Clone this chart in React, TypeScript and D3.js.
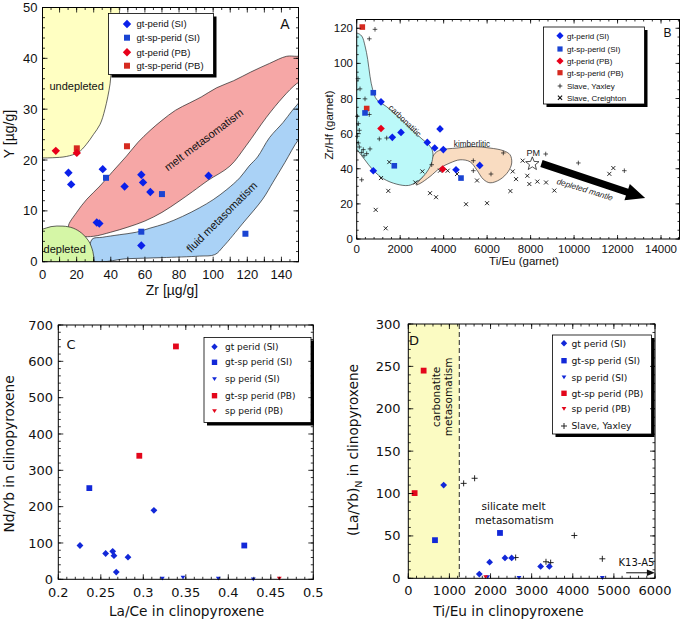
import React from "react";
import * as d3 from "d3";

type P = [number, number];
const FA = "'Liberation Sans', Arial, Helvetica, sans-serif";
const FC = "'DejaVu Sans', Verdana, sans-serif";

// ---------- Panel A: Zr vs Y (garnet) ----------
const aGtPeridSI: P[] = [[15.2, 17.5], [16.8, 15.2], [35.3, 18.2], [31.8, 7.7], [33.3, 7.5], [48.1, 14.8], [57.9, 17.1], [58.9, 15.6], [63.2, 13.7], [97.3, 16.9], [57.9, 3.2]];
const aGtSpPeridSI: P[] = [[37.2, 16.5], [70, 13.3], [57.9, 5.9], [118.9, 5.5]];
const aGtPeridPB: P[] = [[7.8, 21.8], [20.1, 21.4]];
const aGtSpPeridPB: P[] = [[20.1, 22.3], [49.5, 22.7]];
const aXTicks = [0, 20, 40, 60, 80, 100, 120, 140];
const aYTicks = [0, 10, 20, 30, 40, 50];
const aUndepleted: P[] = [[46, 53], [45.4, 50], [43.5, 45], [41, 40], [39.6, 35], [36.6, 30], [33.7, 27], [29.8, 25], [25.5, 23], [21, 21.5], [14, 20.7], [6, 20.45], [0, 20.4], [-4, 20.4], [-4, 53]];
const aDepleted: P[] = [[-4, 6.3], [0, 6.4], [5, 6.9], [12, 7.0], [18, 6.6], [23, 5.6], [27, 4.1], [29.5, 2], [30.3, 0], [30.5, -3], [-4, -3]];
const aMelt: P[] = [[15.2, 6.9], [20, 9.7], [26, 12.3], [33.7, 14.9], [41, 17.7], [49.3, 20.8], [56, 23.5], [63, 25.8], [70, 27.8], [78, 29.8], [86, 31.2], [93, 32.4], [102, 34.2], [112, 35.6], [122, 37.3], [133, 39.0], [143, 40.4], [149, 40.4], [156, 40.5], [156, 36.5], [148.8, 35], [141, 32.4], [131.2, 28.4], [119.5, 22.9], [109.8, 18.8], [97, 16.0], [88, 13.8], [80, 11.9], [70, 9.7], [60, 8.0], [50, 6.8], [40, 5.8], [30, 5.0], [23, 5.0], [18, 5.6]];
const aFluid: P[] = [[29, 4.4], [35, 4.8], [45, 5.3], [55, 5.8], [63, 6.6], [72, 7.5], [82, 8.9], [92, 10.6], [100, 12.2], [108, 14.2], [115.6, 16.5], [121, 18.8], [126, 20.6], [133, 24.4], [141, 27.4], [146, 29.6], [150, 31.2], [156, 34], [156, 26], [150, 24], [142, 19.5], [135, 15.6], [129, 12.3], [117.5, 7.6], [106, 3.0], [101, 1.4], [92, 1.1], [70, 0.8], [50, 0.6], [29, 0.3]];

// ---------- Panel B: Ti/Eu vs Zr/Hf (garnet) ----------
const bGtPeridSI: P[] = [[1118, 78.1], [1638, 57.9], [2038, 60.7], [764, 38.9], [3248, 55], [3589, 51.8], [3833, 62.7], [3985, 50.9], [4569, 39.4], [5659, 41.9]];
const bGtSpPeridSI: P[] = [[764, 83.3], [382, 71.8], [1730, 41.7], [4799, 34.7]];
const bGtPeridPB: P[] = [[1118, 62.9], [3957, 39.8]];
const bGtSpPeridPB: P[] = [[258, 120.7], [460, 74.3]];
const bSlaveYaxley: P[] = [[842, 119.4], [580, 114], [60, 91.3], [152, 85.5], [382, 79.8], [580, 70.9], [28, 69.9], [74, 65.7], [120, 61.9], [28, 58.5], [74, 54.7], [120, 52.4], [304, 50.9], [460, 48.6], [230, 49.3], [612, 51.3], [336, 47.4], [230, 33.7], [1040, 57], [1380, 57.5], [3451, 42.3], [5365, 44.6], [5365, 38.9], [6179, 37], [6745, 49], [8696, 48.4], [10196, 43.3], [12312, 38.9]];
const bSlaveCreighton: P[] = [[1500, 43.8], [1118, 34.7], [1454, 27.4], [874, 16.6], [1334, 6.1], [2697, 32.2], [3020, 38.5], [3373, 26.1], [3649, 23.8], [3833, 38.9], [4185, 38.9], [4615, 37], [5029, 19.8], [5535, 33.3], [5996, 20.4], [7070, 27.3], [7636, 44.6], [7177, 38.5], [7330, 34.1], [7850, 36], [7942, 31.3], [8310, 32.7], [8710, 32.2], [9092, 27.6], [11622, 37.1], [11806, 40.4]];
const bXTicks = [0, 2000, 4000, 6000, 8000, 10000, 12000, 14000];
const bYTicks = [0, 20, 40, 60, 80, 100, 120];
const bCarbonatitic: P[] = [[-400, 117], [0, 117.3], [230, 115.6], [382, 110], [506, 102.3], [612, 92.7], [736, 85], [920, 79.4], [1380, 75.3], [2000, 68.6], [2500, 62.6], [3000, 57], [3350, 53.2], [3500, 49.5], [3462, 44], [3300, 39.5], [3050, 35.5], [2750, 32.4], [2385, 30.5], [1850, 31.2], [1231, 34.3], [770, 39], [350, 45.5], [100, 49.5], [0, 51], [-400, 51]];
const bKimberlitic: P[] = [[2729, 30.8], [3100, 36.5], [3400, 44.5], [3600, 48.8], [3833, 50.6], [4601, 51.8], [5366, 52.6], [6133, 51.8], [6745, 50.3], [7053, 48], [7131, 43.3], [6975, 38.5], [6593, 33.9], [6133, 32], [5826, 34], [5521, 39.4], [5214, 44], [4753, 45.1], [4293, 43.3], [3833, 40.4], [3373, 35.6], [2912, 31.6]];

// ---------- Panel C: La/Ce vs Nd/Yb (cpx) ----------
const cGtPeridSI: P[] = [[0.2255, 93], [0.2557, 71], [0.264, 77], [0.2655, 65], [0.282, 61], [0.2682, 20], [0.3125, 190]];
const cGtSpPeridSI: P[] = [[0.2365, 251], [0.4188, 93]];
const cSpPeridSI: P[] = [[0.3224, 2], [0.3467, 5], [0.3882, 2], [0.4294, 0]];
const cGtSpPeridPB: P[] = [[0.2953, 340], [0.3384, 641]];
const cSpPeridPB: P[] = [[0.46, 2]];
const cXTicks = [0.2, 0.25, 0.3, 0.35, 0.4, 0.45, 0.5];
const cYTicks = [0, 100, 200, 300, 400, 500, 600, 700];

// ---------- Panel D: Ti/Eu vs (La/Yb)N (cpx) ----------
const dGtPeridSI: P[] = [[860, 110], [1727, 5], [1978, 19], [2351, 24], [2514, 24], [3219, 14], [3430, 14]];
const dGtSpPeridSI: P[] = [[649, 45], [2230, 53.5]];
const dSpPeridSI: P[] = [[1930, 1.5], [2692, 0.5], [4719, 0.5]];
const dGtSpPeridPB: P[] = [[373, 245], [154, 100.5]];
const dSpPeridPB: P[] = [[1881, 1.5]];
const dSlaveYaxley: P[] = [[1346, 112], [1613, 118], [2611, 24.5], [3349, 19.5], [3462, 18.5], [4038, 50.5], [4719, 23]];
const dXTicks = [0, 1000, 2000, 3000, 4000, 5000, 6000];
const dYTicks = [0, 50, 100, 150, 200, 250, 300];
const dCarbLimit = 1240;

// ---------- scales ----------
const xA = d3.scaleLinear().domain([0, 150]).range([42.5, 298.5]);
const yA = d3.scaleLinear().domain([0, 50]).range([261.7, 7.5]);
const xB = d3.scaleLinear().domain([0, 14850]).range([356.7, 679.5]);
const yB = d3.scaleLinear().domain([0, 125]).range([239, 19.5]);
const xC = d3.scaleLinear().domain([0.2, 0.5]).range([58.3, 313.3]);
const yC = d3.scaleLinear().domain([0, 700]).range([579.3, 325]);
const xD = d3.scaleLinear().domain([0, 6000]).range([408.3, 655]);
const yD = d3.scaleLinear().domain([0, 300]).range([578.3, 324]);

const rng = (a: number, b: number, s: number) =>
  d3.range(Math.round((b - a) / s) + 1).map((i) => +(a + i * s).toFixed(6));

// ---------- shapes ----------
const diamond = (x: number, y: number, r: number) => `M${x},${y - r}L${x + r},${y}L${x},${y + r}L${x - r},${y}Z`;
const square = (x: number, y: number, r: number) => `M${x - r},${y - r}h${2 * r}v${2 * r}h${-2 * r}Z`;
const triDown = (x: number, y: number, r: number) => `M${x - r},${y - r * 0.75}L${x + r},${y - r * 0.75}L${x},${y + r * 0.85}Z`;
const plus = (x: number, y: number, r: number) => `M${x - r},${y}H${x + r}M${x},${y - r}V${y + r}`;
const cross = (x: number, y: number, r: number) => `M${x - r},${y - r}L${x + r},${y + r}M${x + r},${y - r}L${x - r},${y + r}`;

type Shape = "diamond" | "square" | "tri" | "plus" | "cross";
function shapePath(s: Shape, x: number, y: number, r: number) {
  if (s === "diamond") return diamond(x, y, r);
  if (s === "square") return square(x, y, r);
  if (s === "tri") return triDown(x, y, r);
  if (s === "plus") return plus(x, y, r);
  return cross(x, y, r);
}
function Mark({ s, x, y, r, color, sw }: { s: Shape; x: number; y: number; r: number; color: string; sw?: number }) {
  const stroke = s === "plus" || s === "cross";
  return (
    <path
      d={shapePath(s, x, y, r)}
      fill={stroke ? "none" : color}
      stroke={stroke ? color : "none"}
      strokeWidth={stroke ? sw ?? 0.9 : 0}
    />
  );
}
function Marks({ data, xs, ys, s, r, color, sw }: any) {
  return (
    <g>
      {data.map((d: P, i: number) => (
        <Mark key={i} s={s} x={xs(d[0])} y={ys(d[1])} r={r} color={color} sw={sw} />
      ))}
    </g>
  );
}

function Frame({ xs, ys, xMaj, xMin, yMaj, yMin, maj = 5, min = 2.5 }: any) {
  const [x0, x1] = xs.range();
  const [yb, yt] = ys.range();
  const segs: string[] = [];
  xMin.forEach((v: number) => { const x = xs(v); segs.push(`M${x},${yb}v${-min}M${x},${yt}v${min}`); });
  xMaj.forEach((v: number) => { const x = xs(v); segs.push(`M${x},${yb}v${-maj}M${x},${yt}v${maj}`); });
  yMin.forEach((v: number) => { const y = ys(v); segs.push(`M${x0},${y}h${min}M${x1},${y}h${-min}`); });
  yMaj.forEach((v: number) => { const y = ys(v); segs.push(`M${x0},${y}h${maj}M${x1},${y}h${-maj}`); });
  return (
    <g>
      <path d={segs.join("")} stroke="#000" strokeWidth={0.8} fill="none" />
      <rect x={x0} y={yt} width={x1 - x0} height={yb - yt} fill="none" stroke="#000" strokeWidth={1} />
    </g>
  );
}

function TickLabels({ xs, ys, xt, yt, xFmt, yFmt, xBase, yRight, font, size }: any) {
  return (
    <g fontFamily={font} fontSize={size} fill="#111">
      {xt.map((v: number) => (
        <text key={"x" + v} x={xs(v)} y={xBase} textAnchor="middle">{xFmt ? xFmt(v) : v}</text>
      ))}
      {yt.map((v: number) => (
        <text key={"y" + v} x={yRight} y={ys(v)} dy="0.35em" textAnchor="end">{yFmt ? yFmt(v) : v}</text>
      ))}
    </g>
  );
}

function Legend({ x, y, w, h, items, rowY, mx, tx, font, size, shadow = 3 }: any) {
  return (
    <g>
      <rect x={x + shadow} y={y + shadow} width={w} height={h} fill="#000" />
      <rect x={x} y={y} width={w} height={h} fill="#fff" stroke="#000" strokeWidth={0.8} />
      {items.map((it: any, i: number) => (
        <g key={i}>
          <Mark s={it.s} x={mx} y={rowY[i]} r={it.r} color={it.c} sw={it.sw} />
          <text x={tx} y={rowY[i]} dy="0.35em" fontFamily={font} fontSize={size} fill="#111">{it.label}</text>
        </g>
      ))}
    </g>
  );
}

const closedPath = (xs: any, ys: any, pts: P[]) =>
  d3.line<P>().x((d) => xs(d[0])).y((d) => ys(d[1])).curve(d3.curveCatmullRomClosed.alpha(0.5))(pts) as string;

const BLUE_D = "#0a20ea";
const BLUE_S = "#1a44d2";
const RED_D = "#e8001a";
const RED_S = "#d62a20";
const BLUE_C = "#1228d8";
const RED_C = "#e3061b";

function clipRect(id: string, xs: any, ys: any) {
  const [x0, x1] = xs.range();
  const [yb, yt] = ys.range();
  return (
    <clipPath id={id}>
      <rect x={x0} y={yt} width={x1 - x0} height={yb - yt} />
    </clipPath>
  );
}

function PanelA() {
  const outline = { stroke: "#222", strokeWidth: 0.7 };
  return (
    <g>
      <defs>{clipRect("clipA", xA, yA)}</defs>
      <g clipPath="url(#clipA)">
        <path d={closedPath(xA, yA, aUndepleted)} fill="#ffffc2" {...outline} />
        <path d={closedPath(xA, yA, aMelt)} fill="#f6a7a6" {...outline} />
        <path d={closedPath(xA, yA, aFluid)} fill="#aad2f6" {...outline} />
        <path d={closedPath(xA, yA, aDepleted)} fill="#d5f6a6" {...outline} />
      </g>
      <g fontFamily={FA} fontSize={11} fill="#111">
        <text x={xA(20)} y={yA(34.6)} dy="0.35em" textAnchor="middle">undepleted</text>
        <text x={xA(13)} y={yA(2.4)} dy="0.35em" textAnchor="middle">depleted</text>
        <text transform={`translate(${xA(94.5)},${yA(24)}) rotate(-37)`} dy="0.35em" textAnchor="middle">melt metasomatism</text>
        <text transform={`translate(${xA(105)},${yA(8.8)}) rotate(-45)`} dy="0.35em" textAnchor="middle">fluid metasomatism</text>
      </g>
      <Marks data={aGtSpPeridPB} xs={xA} ys={yA} s="square" r={3} color={RED_S} />
      <Marks data={aGtPeridPB} xs={xA} ys={yA} s="diamond" r={4.2} color={RED_D} />
      <Marks data={aGtPeridSI} xs={xA} ys={yA} s="diamond" r={4.2} color={BLUE_D} />
      <Marks data={aGtSpPeridSI} xs={xA} ys={yA} s="square" r={3} color={BLUE_S} />
      <Legend x={108.5} y={13.5} w={105} h={61} font={FA} size={9.5} mx={127} tx={136.5}
        rowY={[24, 37.7, 52.3, 65.7]}
        items={[
          { s: "diamond", c: BLUE_D, r: 4.2, label: "gt-perid (SI)" },
          { s: "square", c: BLUE_S, r: 3, label: "gt-sp-perid (SI)" },
          { s: "diamond", c: RED_D, r: 4.2, label: "gt-perid (PB)" },
          { s: "square", c: RED_S, r: 3, label: "gt-sp-perid (PB)" },
        ]} />
      <text x={xA(142)} y={yA(46.8)} dy="0.35em" textAnchor="middle" fontFamily={FA} fontSize={14} fill="#111">A</text>
      <Frame xs={xA} ys={yA} xMaj={rng(0, 150, 10)} xMin={rng(0, 150, 5)} yMaj={rng(0, 50, 10)} yMin={rng(0, 50, 2)} />
      <TickLabels xs={xA} ys={yA} xt={aXTicks} yt={aYTicks} xBase={279} yRight={37.5} font={FA} size={13} />
      <text x={172} y={295} textAnchor="middle" fontFamily={FA} fontSize={14} fill="#111">Zr [µg/g]</text>
      <text transform={`translate(14,134) rotate(-90)`} textAnchor="middle" fontFamily={FA} fontSize={14} fill="#111">Y [µg/g]</text>
    </g>
  );
}

function PanelB() {
  const outline = { stroke: "#333", strokeWidth: 0.7 };
  const p0: P = [xB(8500), yB(43)];
  const p1: P = [xB(13270), yB(23.3)];
  const dx = p1[0] - p0[0], dy = p1[1] - p0[1];
  const L = Math.hypot(dx, dy);
  const ux = dx / L, uy = dy / L, nx = -uy, ny = ux;
  const hw = 3.6, hhw = 8.5, hl = 19;
  const bx = p1[0] - ux * hl, by = p1[1] - uy * hl;
  const arrow = [
    [p0[0] + nx * hw, p0[1] + ny * hw], [bx + nx * hw, by + ny * hw], [bx + nx * hhw, by + ny * hhw],
    p1, [bx - nx * hhw, by - ny * hhw], [bx - nx * hw, by - ny * hw], [p0[0] - nx * hw, p0[1] - ny * hw],
  ].map((p) => p.join(",")).join(" ");
  const ang = (Math.atan2(dy, dx) * 180) / Math.PI;
  const sx = xB(8080), sy = yB(42.8);
  const star = d3.range(10).map((i) => {
    const r = i % 2 === 0 ? 7 : 3;
    const a = -Math.PI / 2 + (i * Math.PI) / 5;
    return [sx + r * Math.cos(a), sy + r * Math.sin(a)].join(",");
  }).join(" ");
  return (
    <g>
      <defs>{clipRect("clipB", xB, yB)}</defs>
      <g clipPath="url(#clipB)">
        <path d={closedPath(xB, yB, bKimberlitic)} fill="#f9dcc1" {...outline} />
        <path d={closedPath(xB, yB, bCarbonatitic)} fill="#bbf9f9" {...outline} />
      </g>
      <g fontFamily={FA} fontSize={8.2} fill="#222">
        <text transform={`translate(${xB(2222)},${yB(67.4)}) rotate(44)`} dy="0.35em" textAnchor="middle">carbonatitic</text>
        <text x={xB(5305)} y={yB(54.1)} dy="0.35em" textAnchor="middle">kimberlitic</text>
        <text x={xB(8126)} y={yB(48.8)} dy="0.35em" textAnchor="middle" fontSize={9}>PM</text>
        <text transform={`translate(${xB(10500)},${yB(28.2)}) rotate(${ang - 1.5})`} dy="0.35em" textAnchor="middle" fontStyle="italic">depleted mantle</text>
      </g>
      <Marks data={bSlaveCreighton} xs={xB} ys={yB} s="cross" r={2} color="#111" sw={0.9} />
      <Marks data={bSlaveYaxley} xs={xB} ys={yB} s="plus" r={2.3} color="#111" sw={0.7} />
      <polygon points={star} fill="#fff" stroke="#222" strokeWidth={0.8} />
      <polygon points={arrow} fill="#000" />
      <Marks data={bGtSpPeridPB} xs={xB} ys={yB} s="square" r={2.8} color={RED_S} />
      <Marks data={bGtPeridPB} xs={xB} ys={yB} s="diamond" r={3.8} color={RED_D} />
      <Marks data={bGtPeridSI} xs={xB} ys={yB} s="diamond" r={3.8} color={BLUE_D} />
      <Marks data={bGtSpPeridSI} xs={xB} ys={yB} s="square" r={2.8} color={BLUE_S} />
      <Legend x={543.5} y={27} w={101} h={77} font={FA} size={8} mx={560} tx={567}
        rowY={[35.7, 49, 61, 72.7, 86, 97.7]}
        items={[
          { s: "diamond", c: BLUE_D, r: 3.6, label: "gt-perid (SI)" },
          { s: "square", c: BLUE_S, r: 2.6, label: "gt-sp-perid (SI)" },
          { s: "diamond", c: RED_D, r: 3.6, label: "gt-perid (PB)" },
          { s: "square", c: RED_S, r: 2.6, label: "gt-sp-perid (PB)" },
          { s: "plus", c: "#111", r: 2.3, sw: 0.8, label: "Slave, Yaxley" },
          { s: "cross", c: "#111", r: 2.1, sw: 1.1, label: "Slave, Creighton" },
        ]} />
      <text x={xB(14300)} y={yB(117.6)} dy="0.35em" textAnchor="middle" fontFamily={FA} fontSize={12} fill="#111">B</text>
      <Frame xs={xB} ys={yB} xMaj={rng(0, 14000, 2000)} xMin={rng(0, 14800, 400)} yMaj={rng(0, 120, 20)} yMin={rng(0, 125, 5)} maj={4} min={2} />
      <TickLabels xs={xB} ys={yB} xt={bXTicks} yt={bYTicks} xBase={252.5} yRight={353} font={FA} size={11.5} />
      <text x={524} y={265} textAnchor="middle" fontFamily={FA} fontSize={11.5} fill="#111">Ti/Eu (garnet)</text>
      <text transform={`translate(333,125) rotate(-90)`} textAnchor="middle" fontFamily={FA} fontSize={11.5} fill="#111">Zr/Hf (garnet)</text>
    </g>
  );
}

function PanelC() {
  const fmt = (v: number) => String(+v.toFixed(2));
  return (
    <g>
      <Marks data={cGtPeridSI} xs={xC} ys={yC} s="diamond" r={3.4} color={BLUE_C} />
      <Marks data={cGtSpPeridSI} xs={xC} ys={yC} s="square" r={2.9} color={BLUE_C} />
      <Marks data={cSpPeridSI} xs={xC} ys={yC} s="tri" r={2.4} color={BLUE_C} />
      <Marks data={cGtSpPeridPB} xs={xC} ys={yC} s="square" r={2.9} color={RED_C} />
      <Marks data={cSpPeridPB} xs={xC} ys={yC} s="tri" r={2.4} color={RED_C} />
      <Legend x={204} y={337.5} w={107} h={85} font={FC} size={9} mx={214.5} tx={225}
        rowY={[346.7, 362.3, 379, 395.7, 411]}
        items={[
          { s: "diamond", c: BLUE_C, r: 3.2, label: "gt perid (SI)" },
          { s: "square", c: BLUE_C, r: 2.7, label: "gt-sp perid (SI)" },
          { s: "tri", c: BLUE_C, r: 2.4, label: "sp perid (SI)" },
          { s: "square", c: RED_C, r: 2.7, label: "gt-sp perid (PB)" },
          { s: "tri", c: RED_C, r: 2.4, label: "sp perid (PB)" },
        ]} />
      <text x={71} y={344} dy="0.35em" textAnchor="middle" fontFamily={FC} fontSize={13} fill="#111">C</text>
      <Frame xs={xC} ys={yC} xMaj={rng(0.2, 0.5, 0.05)} xMin={rng(0.2, 0.5, 0.01)} yMaj={rng(0, 700, 100)} yMin={rng(0, 700, 20)} maj={5} min={2.5} />
      <TickLabels xs={xC} ys={yC} xt={cXTicks} yt={cYTicks} xFmt={fmt} xBase={597} yRight={53} font={FC} size={13} />
      <text x={186.5} y={616} textAnchor="middle" fontFamily={FC} fontSize={13.7} fill="#111">La/Ce in clinopyroxene</text>
      <text transform={`translate(14,454) rotate(-90)`} textAnchor="middle" fontFamily={FC} fontSize={13.7} fill="#111">Nd/Yb in clinopyroxene</text>
    </g>
  );
}

function PanelD() {
  const [yb, yt] = yD.range();
  const xl = xD(dCarbLimit);
  return (
    <g>
      <rect x={xD(0)} y={yt} width={xl - xD(0)} height={yb - yt} fill="#fbfbc2" />
      <line x1={xl} x2={xl} y1={yt} y2={yb} stroke="#111" strokeWidth={0.9} strokeDasharray="5,3" />
      <g fontFamily={FC} fontSize={10.5} fill="#111" textAnchor="middle">
        <text transform={`translate(${xD(690)},${yD(214)}) rotate(-90)`} dy="0.35em">carbonatite</text>
        <text transform={`translate(${xD(975)},${yD(214)}) rotate(-90)`} dy="0.35em">metasomatism</text>
        <text x={xD(2560)} y={yD(84.5)} dy="0.35em">silicate melt</text>
        <text x={xD(2580)} y={yD(68.8)} dy="0.35em">metasomatism</text>
        <text x={xD(5550)} y={yD(19)} dy="0.35em" fontSize={10}>K13-A5</text>
      </g>
      <line x1={xD(5300)} x2={xD(5900)} y1={yD(6.5)} y2={yD(6.5)} stroke="#111" strokeWidth={1} />
      <path d={`M${xD(5900) + 4},${yD(6.5)}l-8,-3.2v6.4Z`} fill="#111" />
      <Marks data={dSlaveYaxley} xs={xD} ys={yD} s="plus" r={3} color="#111" sw={0.9} />
      <Marks data={dGtPeridSI} xs={xD} ys={yD} s="diamond" r={3.4} color={BLUE_C} />
      <Marks data={dGtSpPeridSI} xs={xD} ys={yD} s="square" r={2.9} color={BLUE_C} />
      <Marks data={dSpPeridSI} xs={xD} ys={yD} s="tri" r={2.4} color={BLUE_C} />
      <Marks data={dGtSpPeridPB} xs={xD} ys={yD} s="square" r={2.9} color={RED_C} />
      <Marks data={dSpPeridPB} xs={xD} ys={yD} s="tri" r={2.4} color={RED_C} />
      <Legend x={552.5} y={335} w={99} h={99} font={FC} size={9.2} mx={564} tx={571.5}
        rowY={[343.3, 360.7, 377.3, 393.3, 408.7, 426]}
        items={[
          { s: "diamond", c: BLUE_C, r: 3.2, label: "gt perid (SI)" },
          { s: "square", c: BLUE_C, r: 2.7, label: "gt-sp perid (SI)" },
          { s: "tri", c: BLUE_C, r: 2.4, label: "sp perid (SI)" },
          { s: "square", c: RED_C, r: 2.7, label: "gt-sp perid (PB)" },
          { s: "tri", c: RED_C, r: 2.4, label: "sp perid (PB)" },
          { s: "plus", c: "#111", r: 3, sw: 0.9, label: "Slave, Yaxley" },
        ]} />
      <text x={414} y={340.7} dy="0.35em" textAnchor="middle" fontFamily={FC} fontSize={13} fill="#111">D</text>
      <Frame xs={xD} ys={yD} xMaj={rng(0, 6000, 1000)} xMin={rng(0, 6000, 200)} yMaj={rng(0, 300, 50)} yMin={rng(0, 300, 10)} maj={5} min={2.5} />
      <TickLabels xs={xD} ys={yD} xt={dXTicks} yt={dYTicks} xBase={595} yRight={400.5} font={FC} size={13} />
      <text x={508.5} y={616} textAnchor="middle" fontFamily={FC} fontSize={13.7} fill="#111">Ti/Eu in clinopyroxene</text>
      <text transform={`translate(358,450) rotate(-90)`} textAnchor="middle" fontFamily={FC} fontSize={13.7} fill="#111">
        (La/Yb)<tspan fontSize={9.5} dy="4">N</tspan><tspan dy="-4"> in clinopyroxene</tspan>
      </text>
    </g>
  );
}

export default function App() {
  return (
    <svg width={685} height={621} viewBox="0 0 685 621" style={{ position: "absolute", left: 0, top: 0, background: "#fff" }}>
      <rect width={685} height={621} fill="#fff" />
      <PanelA />
      <PanelB />
      <PanelC />
      <PanelD />
    </svg>
  );
}
